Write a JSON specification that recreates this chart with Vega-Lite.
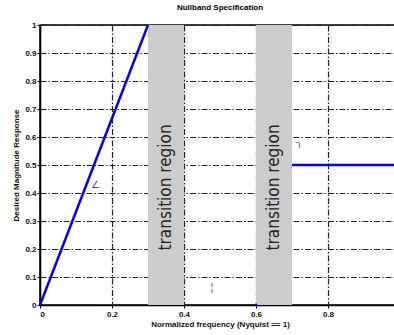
{
  "$schema": "https://vega.github.io/schema/vega-lite/v6.json",
  "autosize": {"type": "none"},
  "padding": {"left": 40, "top": 25, "right": 0, "bottom": 30},
  "width": 360,
  "height": 280,
  "background": "white",
  "config": {
    "view": {"stroke": "black", "strokeWidth": 1.5},
    "font": "Liberation Sans",
    "axis": {"grid": true, "zindex": 1, "format": "~g", "labelOverlap": false,
      "gridColor": "#222", "gridDash": [6, 2, 1.5, 2], "gridWidth": 1.2, "gridOpacity": 1,
      "domainColor": "black", "domainWidth": 1.5, "tickColor": "black", "tickSize": 3,
      "labelFontSize": 8, "labelFontWeight": "bold", "labelColor": "#111",
      "titleFontSize": 8, "titleFontWeight": "bold", "titleColor": "#111"}
  },
  "title": {"text": "Nullband Specification", "fontSize": 8, "fontWeight": "bold", "font": "Liberation Sans", "color": "black", "offset": 8},
  "datasets": {
    "bands": [{"x1": 0.3, "x2": 0.4}, {"x1": 0.6, "x2": 0.7}],
    "resp": [
      {"f": 0, "a": 0, "seg": 1}, {"f": 0.3, "a": 1, "seg": 1},
      {"f": 0.7, "a": 0.5, "seg": 3}, {"f": 1, "a": 0.5, "seg": 3}
    ],
    "dot": [{"f": 0.6, "a": 0}],
    "labels": [
      {"x": 0.35, "y": 0.42, "t": "transition region"},
      {"x": 0.65, "y": 0.42, "t": "transition region"}
    ],
    "marks": [
      {"x": 0.155, "y": 0.43, "t": "∠"},
      {"x": 0.478, "y": 0.06, "t": "¦"},
      {"x": 0.72, "y": 0.58, "t": "┐"}
    ]
  },
  "encoding": {
    "x": {"type": "quantitative", "scale": {"domain": [0, 1], "nice": false},
      "axis": {"tickCount": 5, "labelExpr": "datum.value >= 0.99 ? '' : datum.label", "labelPadding": 2, "titlePadding": 2},
      "title": "Normalized frequency (Nyquist == 1)"},
    "y": {"type": "quantitative", "scale": {"domain": [0, 1], "nice": false},
      "axis": {"tickCount": 10, "labelPadding": 1, "titlePadding": 4},
      "title": "Desired Magnitude Response"}
  },
  "layer": [
    {
      "data": {"name": "bands"},
      "mark": {"type": "rect", "color": "#cccccc"},
      "encoding": {
        "x": {"field": "x1"},
        "x2": {"field": "x2"},
        "y": {"datum": 0},
        "y2": {"datum": 1}
      }
    },
    {
      "data": {"name": "resp"},
      "mark": {"type": "line", "color": "#0000ff", "strokeWidth": 2.5},
      "encoding": {
        "x": {"field": "f"},
        "y": {"field": "a"},
        "detail": {"field": "seg"}
      }
    },
    {
      "data": {"name": "dot"},
      "mark": {"type": "point", "filled": true, "color": "#0000ff", "size": 8, "opacity": 1},
      "encoding": {
        "x": {"field": "f"},
        "y": {"field": "a"}
      }
    },
    {
      "data": {"name": "labels"},
      "mark": {"type": "text", "angle": 270, "font": "DejaVu Sans Condensed", "fontSize": 17, "color": "#222", "align": "center", "baseline": "middle"},
      "encoding": {
        "x": {"field": "x"},
        "y": {"field": "y"},
        "text": {"field": "t"}
      }
    },
    {
      "data": {"name": "marks"},
      "mark": {"type": "text", "fontSize": 10, "color": "#555", "align": "center", "baseline": "middle"},
      "encoding": {
        "x": {"field": "x"},
        "y": {"field": "y"},
        "text": {"field": "t"}
      }
    }
  ]
}
